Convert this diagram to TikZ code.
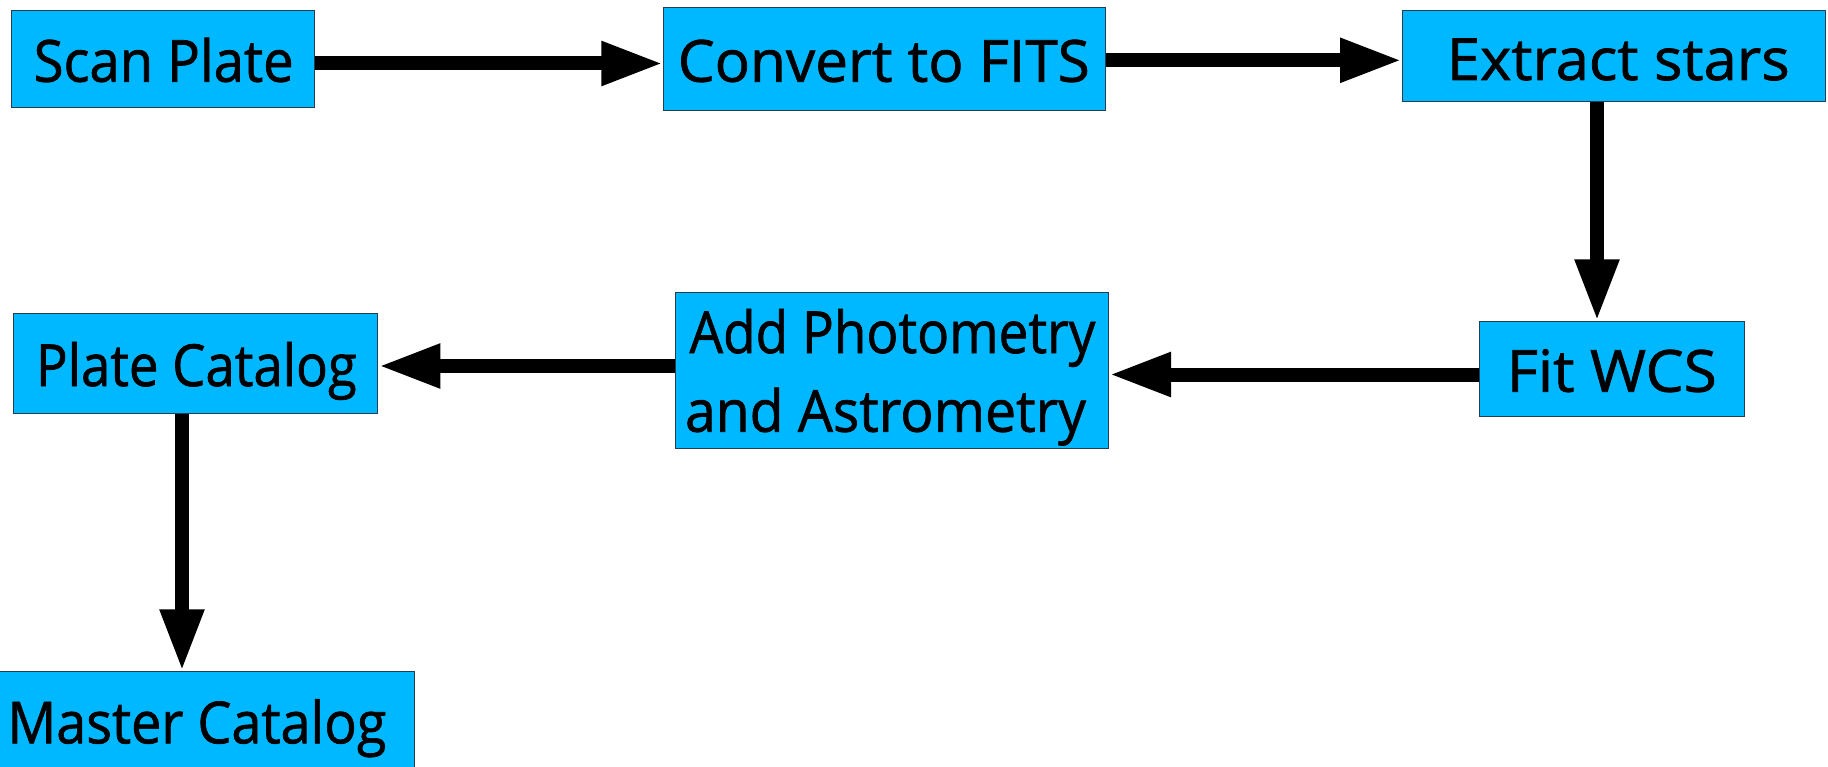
\documentclass[tikz,border=0pt]{standalone}
\usepackage{graphicx}
\usepackage{fontspec}
\setmainfont{Open Sans}
\newfontfamily\stagefont{Open Sans}[FakeBold=1.2]
\usetikzlibrary{arrows.meta}

\definecolor{boxfill}{RGB}{0,184,255}
\definecolor{boxline}{RGB}{40,60,80}

% set a line of text stretched horizontally to a given width (in pt)
\newcommand{\stretchto}[2]{%
  \setbox0=\hbox{#2}%
  \pgfmathsetmacro{\sxfactor}{#1/\the\wd0}%
  \scalebox{\sxfactor}[1]{\box0}}

\tikzset{
  stagebox/.style={draw=boxline, line width=1pt, fill=boxfill, rectangle,
                   inner sep=0pt, anchor=north west},
  stagetext/.style={anchor=base, inner sep=0pt, font=\stagefont\fontsize{58}{70}\selectfont},
  flow/.style={line width=14pt, -{Triangle[length=62pt,width=41pt]}}
}

\begin{document}
\begin{tikzpicture}[x=1pt, y=-1pt]
  \useasboundingbox (0,0) rectangle (1828,767);
  \clip (0,0) rectangle (1828,767);

  % process stages
  \node[stagebox, minimum width=303.5pt, minimum height=97.3pt] (scan)    at (10.5,10)   {};
  \node[stagebox, minimum width=442pt,   minimum height=103.3pt] (fits)    at (663.3,6.7) {};
  \node[stagebox, minimum width=422.5pt, minimum height=90.7pt]  (extract) at (1402,10)   {};
  \node[stagebox, minimum width=265.3pt, minimum height=94.7pt]  (wcs)     at (1478.7,321.3) {};
  \node[stagebox, minimum width=433pt,   minimum height=156pt]   (phot)    at (675,292)   {};
  \node[stagebox, minimum width=364pt,   minimum height=100.6pt] (plate)   at (13.4,312.7) {};
  \node[stagebox, minimum width=415pt,   minimum height=110pt]   (master)  at (-1,671.3)  {};

  % stage labels
  \node[stagetext] (scanT)    at (163.7,81.7)  {\stretchto{260}{Scan Plate}};
  \node[stagetext] (fitsT)    at (883.8,81.7)  {\stretchto{412}{Convert to FITS}};
  \node[stagetext] (extractT) at (1618.3,80)   {\stretchto{343}{Extract stars}};
  \node[stagetext] (wcsT)     at (1611.7,391.7){\stretchto{210}{Fit WCS}};
  \node[stagetext] (photT)    at (892.5,353)   {\stretchto{406}{Add Photometry}};
  \node[stagetext] (astroT)   at (885.5,431.7) {\stretchto{401}{and Astrometry}};
  \node[stagetext] (plateT)   at (196.4,386)   {\stretchto{321}{Plate Catalog}};
  \node[stagetext] (masterT)  at (197,743.3)   {\stretchto{379}{Master Catalog}};

  % levels of the connectors
  \coordinate (r1) at (0,63.5);
  \coordinate (r2) at (0,60.3);
  \coordinate (c3) at (1597,0);
  \coordinate (r4) at (0,374.5);
  \coordinate (r5) at (0,366);
  \coordinate (c6) at (182,0);

  % flow between stages
  \draw[flow] (scan.east |- r1)     -- (fits.west |- r1);
  \draw[flow] (fits.east |- r2)     -- (extract.west |- r2);
  \draw[flow] (extract.south -| c3) -- (wcs.north -| c3);
  \draw[flow] (wcs.west |- r4)      -- (phot.east |- r4);
  \draw[flow] (phot.west |- r5)     -- (plate.east |- r5);
  \draw[flow] (plate.south -| c6)   -- (master.north -| c6);
\end{tikzpicture}
\end{document}
